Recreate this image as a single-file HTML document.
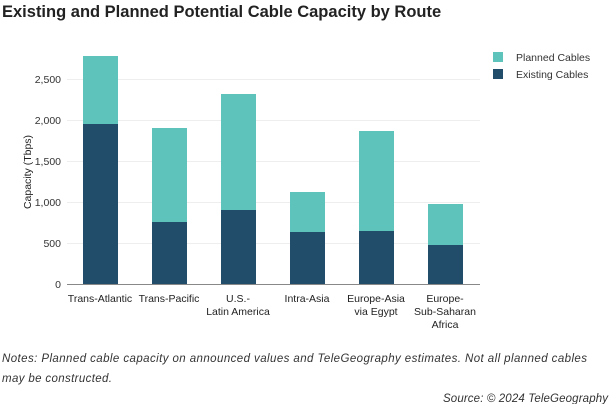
<!DOCTYPE html>
<html><head><meta charset="utf-8"><style>
body{margin:0;background:#fff;width:612px;height:404px;overflow:hidden;font-family:"Liberation Sans",sans-serif;}
</style></head><body>
<svg width="612" height="404" xmlns="http://www.w3.org/2000/svg" font-family="Liberation Sans, sans-serif">
<text x="2" y="17" font-size="16.5" font-weight="bold" fill="#222">Existing and Planned Potential Cable Capacity by Route</text>
<g stroke="#eeeeee" stroke-width="1">
<line x1="67" x2="480" y1="79.5" y2="79.5"/><line x1="67" x2="480" y1="120.5" y2="120.5"/>
<line x1="67" x2="480" y1="161.5" y2="161.5"/><line x1="67" x2="480" y1="202.5" y2="202.5"/>
<line x1="67" x2="480" y1="243.5" y2="243.5"/>
</g>
<g font-size="10.5" fill="#333" text-anchor="end">
<text x="61" y="83">2,500</text><text x="61" y="124">2,000</text><text x="61" y="165">1,500</text>
<text x="61" y="206">1,000</text><text x="61" y="247">500</text><text x="61" y="288">0</text>
</g>
<text transform="translate(31,172) rotate(-90)" font-size="10.5" fill="#222" text-anchor="middle">Capacity (Tbps)</text>
<g fill="#5ec4bb">
<rect x="83" y="56" width="35" height="68"/><rect x="152" y="128" width="35" height="94"/>
<rect x="221" y="94" width="35" height="116"/><rect x="290" y="192" width="35" height="40"/>
<rect x="359" y="131" width="35" height="100"/><rect x="428" y="204" width="35" height="41"/>
</g>
<g fill="#214d6b">
<rect x="83" y="124" width="35" height="160"/><rect x="152" y="222" width="35" height="62"/>
<rect x="221" y="210" width="35" height="74"/><rect x="290" y="232" width="35" height="52"/>
<rect x="359" y="231" width="35" height="53"/><rect x="428" y="245" width="35" height="39"/>
</g>
<line x1="67" x2="480" y1="284.5" y2="284.5" stroke="#888"/>
<g font-size="10.5" fill="#222" text-anchor="middle">
<text x="100" y="302">Trans-Atlantic</text><text x="169" y="302">Trans-Pacific</text>
<text x="238" y="302">U.S.-</text><text x="238" y="315">Latin America</text>
<text x="307" y="302">Intra-Asia</text>
<text x="376" y="302">Europe-Asia</text><text x="376" y="315">via Egypt</text>
<text x="445" y="302">Europe-</text><text x="445" y="315">Sub-Saharan</text><text x="445" y="328">Africa</text>
</g>
<rect x="493" y="52" width="10" height="10" fill="#5ec4bb"/>
<rect x="493" y="69" width="10" height="10" fill="#214d6b"/>
<g font-size="10.5" fill="#333"><text x="516" y="61">Planned Cables</text><text x="516" y="78">Existing Cables</text></g>
<g font-size="11.5" font-style="italic" fill="#333">
<text x="2" y="362" textLength="585" lengthAdjust="spacing">Notes: Planned cable capacity on announced values and TeleGeography estimates. Not all planned cables</text>
<text x="2" y="382" textLength="110" lengthAdjust="spacing">may be constructed.</text>
<text x="443" y="402" textLength="165" lengthAdjust="spacing">Source: © 2024 TeleGeography</text>
</g>
</svg>
</body></html>
